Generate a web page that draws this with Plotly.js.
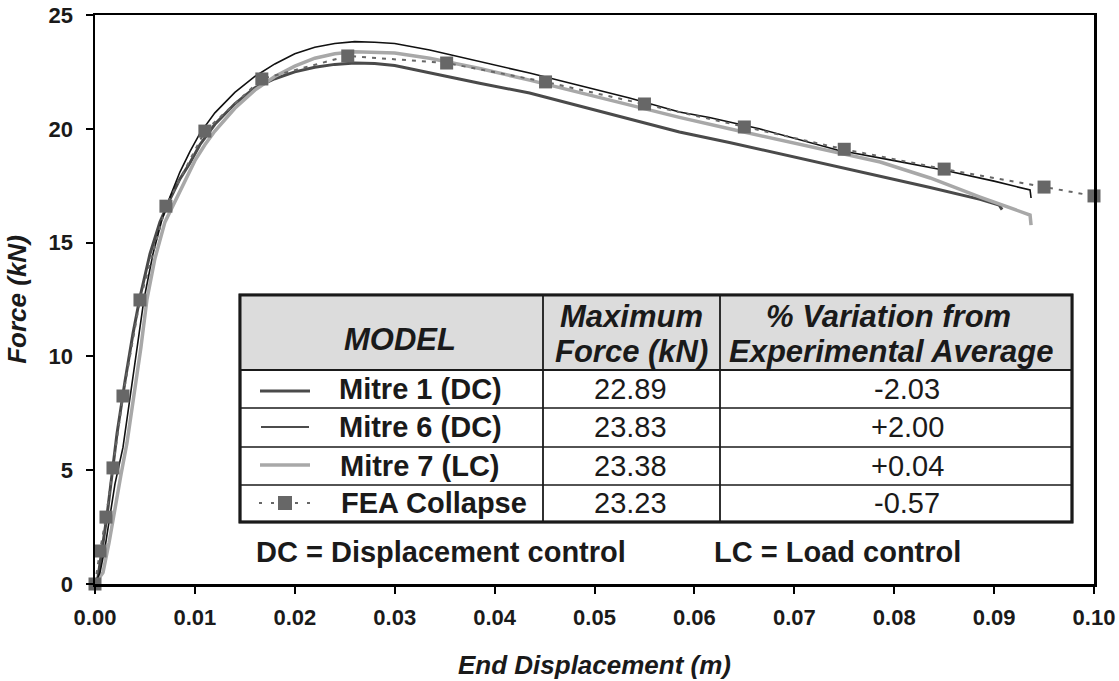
<!DOCTYPE html>
<html>
<head>
<meta charset="utf-8">
<script src="https://cdn.plot.ly/plotly-3.0.1.min.js"></script>
<style>html,body{margin:0;padding:0;background:#fff;}#chart{width:1119px;height:681px;}</style>
</head>
<body>
<div id="chart"></div>
<script>
// ---- Data ----
const mitre1X = [0,0.0003,0.0007,0.0012,0.0017,0.0022,0.0030,0.0038,0.0045,0.0055,0.0065,0.0075,0.0085,0.0095,0.0105,0.012,0.014,0.016,0.018,0.020,0.022,0.024,0.026,0.028,0.030,0.0335,0.0385,0.0435,0.0485,0.0535,0.0585,0.0635,0.0686,0.0736,0.0786,0.0836,0.0886,0.0905,0.0908];
const mitre1Y = [0,0.3,1.5,3.0,4.8,6.6,8.9,11.0,12.6,14.5,15.9,16.9,17.8,18.5,19.3,20.2,21.1,21.8,22.2,22.5,22.7,22.83,22.89,22.87,22.78,22.45,22.0,21.57,21.0,20.4,19.86,19.4,18.9,18.4,17.93,17.42,16.9,16.65,16.45];

const mitre6X = [0,0.0005,0.001,0.0015,0.002,0.0028,0.0035,0.0042,0.0049,0.0058,0.0067,0.0075,0.0085,0.0095,0.0105,0.012,0.014,0.016,0.018,0.020,0.022,0.024,0.026,0.028,0.030,0.0335,0.0385,0.0435,0.0485,0.0535,0.0585,0.0615,0.0665,0.0743,0.080,0.0849,0.090,0.0936,0.0937];
const mitre6Y = [0,0.5,1.6,3.0,4.4,6.0,8.2,10.3,12.5,14.5,16.0,17.0,18.1,19.0,19.8,20.7,21.6,22.3,22.85,23.3,23.58,23.75,23.83,23.8,23.75,23.46,22.95,22.45,21.9,21.35,20.74,20.5,20.0,19.07,18.6,18.19,17.7,17.31,16.96];

const mitre7X = [0,0.0008,0.0014,0.002,0.0026,0.0032,0.004,0.0046,0.0052,0.006,0.007,0.0078,0.009,0.010,0.011,0.012,0.014,0.016,0.018,0.020,0.022,0.024,0.026,0.028,0.030,0.0335,0.0385,0.0435,0.0485,0.0535,0.0585,0.0635,0.0686,0.0736,0.0786,0.0836,0.0886,0.0936,0.0937];
const mitre7Y = [0,0.5,1.8,3.4,4.8,6.2,8.5,10.4,12.5,14.3,15.9,16.6,17.7,18.6,19.3,19.9,20.9,21.7,22.3,22.75,23.1,23.3,23.38,23.37,23.33,23.1,22.65,22.14,21.6,21.05,20.5,20.0,19.5,19.0,18.54,17.84,17.0,16.21,15.77];

const feaX = [0,0.0005,0.0011,0.0018,0.0028,0.0045,0.0071,0.011,0.0167,0.0253,0.0352,0.0451,0.055,0.065,0.075,0.085,0.095,0.100];
const feaY = [0,1.45,2.94,5.1,8.26,12.48,16.6,19.9,22.19,23.2,22.89,22.06,21.09,20.08,19.1,18.23,17.44,17.05];

const xTickVals = [0,0.01,0.02,0.03,0.04,0.05,0.06,0.07,0.08,0.09,0.10];
const yTickVals = [0,5,10,15,20,25];

const seriesNames = ["Mitre 1 (DC)","Mitre 6 (DC)","Mitre 7 (LC)","FEA Collapse"];
const maxForce = ["22.89","23.83","23.38","23.23"];
const variation = ["-2.03","+2.00","+0.04","-0.57"];
const tableHeaders = ["MODEL","Maximum","Force (kN)","% Variation from","Experimental Average"];
const footNotes = ["DC = Displacement control","LC = Load control"];

// ---- Styles ----
const FONT = "Liberation Sans, Arial, sans-serif";
const C1 = "#4a4a4a", C6 = "#111111", C7 = "#a8a8a8", CF = "#676767";

const traces = [
  {x: mitre1X, y: mitre1Y, mode: "lines", line: {color: C1, width: 3}, name: seriesNames[0]},
  {x: mitre7X, y: mitre7Y, mode: "lines", line: {color: C7, width: 3.5}, name: seriesNames[2]},
  {x: mitre6X, y: mitre6Y, mode: "lines", line: {color: C6, width: 1.6}, name: seriesNames[1]},
  {x: feaX, y: feaY, mode: "lines+markers", line: {color: CF, width: 2, dash: "4px,6px"},
   marker: {symbol: "square", size: 13, color: CF}, name: seriesNames[3], cliponaxis: false}
];

// pixel -> paper helpers (plot area: x 95..1094, y 15..584)
const L = 95, R = 1094, T = 15, B = 584;
const px = v => (v - L) / (R - L);
const py = v => (B - v) / (B - T);

const tblL = 240, tblR = 1072, tblT = 295, hdrB = 370, rowLines = [408, 447, 485], tblB = 522;
const col1 = 543, col2 = 720;
const rowCenters = [389, 427, 466, 503];

const shapes = [];
const rect = (x0,y0,x1,y1,fill,lw) => shapes.push({type:"rect", xref:"paper", yref:"paper",
  x0:px(x0), x1:px(x1), y0:py(y1), y1:py(y0), fillcolor:fill, line:{color:"#1a1a1a", width:lw}, layer:"above"});
const line = (x0,y0,x1,y1,color,w,dash) => shapes.push({type:"line", xref:"paper", yref:"paper",
  x0:px(x0), x1:px(x1), y0:py(y0), y1:py(y1), line:{color:color, width:w, dash:dash||"solid"}, layer:"above"});

rect(tblL, tblT, tblR, tblB, "#ffffff", 2.5);
rect(tblL, tblT, tblR, hdrB, "#dcdcdc", 0);
line(tblL, hdrB, tblR, hdrB, "#1a1a1a", 1.8);
rowLines.forEach(y => line(tblL, y, tblR, y, "#1a1a1a", 1.5));
line(col1, tblT, col1, tblB, "#1a1a1a", 1.8);
line(col2, tblT, col2, tblB, "#1a1a1a", 1.8);
rect(tblL, tblT, tblR, tblB, "rgba(0,0,0,0)", 3);

// legend samples in table
line(260, rowCenters[0]+2, 310, rowCenters[0]+2, C1, 3);
line(261, rowCenters[1], 309, rowCenters[1], C6, 1.6);
line(260, rowCenters[2]-1, 310, rowCenters[2]-1, C7, 3.5);
line(259, rowCenters[3], 310, rowCenters[3], CF, 2, "3px,9px");
shapes.push({type:"rect", xref:"paper", yref:"paper", x0:px(278), x1:px(292), y0:py(rowCenters[3]+7), y1:py(rowCenters[3]-7),
  fillcolor:CF, line:{width:0}, layer:"above"});

const ann = [];
const txt = (x, y, text, size, opts) => ann.push(Object.assign({xref:"paper", yref:"paper", x:px(x), y:py(y),
  text:text, showarrow:false, xanchor:"center", yanchor:"middle", font:{family:FONT, size:size, color:"#1a1a1a"}}, opts||{}));

txt(400, 339, "<b><i>" + tableHeaders[0] + "</i></b>", 31);
txt(631, 317, "<b><i>" + tableHeaders[1] + "</i></b>", 31);
txt(631, 351, "<b><i>" + tableHeaders[2] + "</i></b>", 31);
txt(888, 317, "<b><i>" + tableHeaders[3] + "</i></b>", 31);
txt(891, 351, "<b><i>" + tableHeaders[4] + "</i></b>", 31);

const nameX = [420, 420, 420, 434];
seriesNames.forEach((n, i) => {
  txt(nameX[i], rowCenters[i], "<b>" + n + "</b>", 29);
  txt(630, rowCenters[i], maxForce[i], 29);
  txt(907, rowCenters[i], variation[i], 29);
});
txt(254, 552, "<b>" + footNotes[0] + "</b>", 29, {xanchor:"left"});
txt(712, 552, "<b>" + footNotes[1] + "</b>", 29, {xanchor:"left"});

const layout = {
  width: 1119, height: 681,
  margin: {l: L, r: 1119 - R, t: T, b: 681 - B},
  paper_bgcolor: "#ffffff", plot_bgcolor: "#ffffff",
  showlegend: false,
  font: {family: FONT, color: "#1a1a1a"},
  xaxis: {
    range: [0, 0.1], tickvals: xTickVals, tickformat: ".2f",
    ticks: "outside", ticklen: 7, tickwidth: 2, tickcolor: "#000",
    showline: true, linewidth: 2.5, linecolor: "#000", mirror: true,
    showgrid: false, zeroline: false,
    tickfont: {family: FONT, size: 22, color: "#1a1a1a", weight: "bold"},
    ticklabelstandoff: 5,
    title: {text: "<b><i>End Displacement (m)</i></b>", font: {family: FONT, size: 26, color: "#1a1a1a"}, standoff: 27},
    automargin: false
  },
  yaxis: {
    range: [0, 25], tickvals: yTickVals,
    ticks: "outside", ticklen: 7, tickwidth: 2, tickcolor: "#000",
    showline: true, linewidth: 2.5, linecolor: "#000", mirror: true,
    showgrid: false, zeroline: false,
    tickfont: {family: FONT, size: 22, color: "#1a1a1a", weight: "bold"},
    ticklabelstandoff: 8,
    title: {text: "<b><i>Force (kN)</i></b>", font: {family: FONT, size: 26, color: "#1a1a1a"}, standoff: 15},
    automargin: false
  },
  shapes: shapes,
  annotations: ann
};

Plotly.newPlot("chart", traces, layout, {displayModeBar: false, staticPlot: true});
</script>
</body>
</html>
